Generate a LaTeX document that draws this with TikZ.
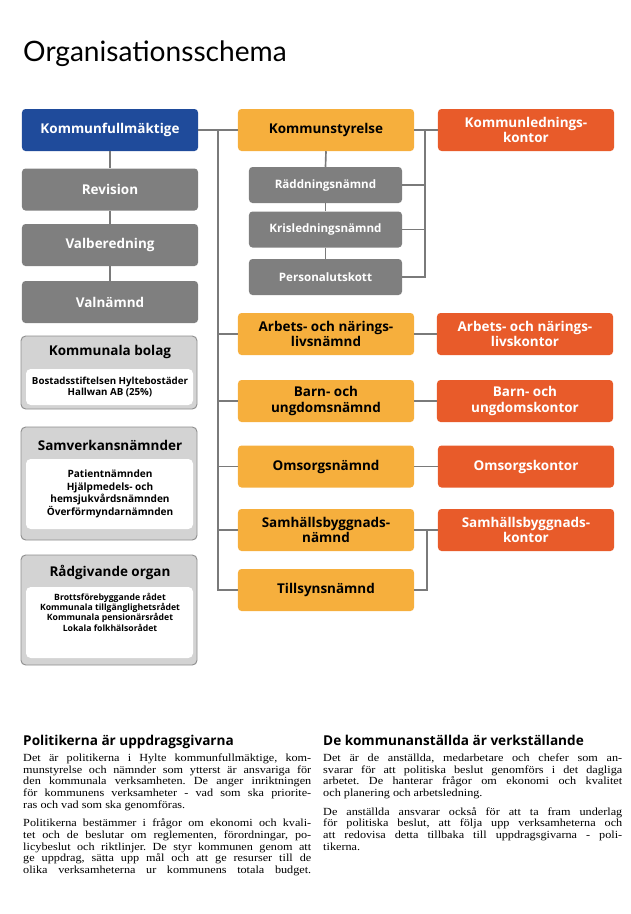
\documentclass[tikz,border=0pt]{standalone}
\usepackage{fontspec}
\usepackage{tikz}
\setmainfont{Liberation Serif}[FakeStretch=1.12]
\newfontfamily\boxfont{Open Sans}
\newfontfamily\titlefont{Lato}
\frenchspacing

\definecolor{kfblue}{HTML}{1F4B9B}
\definecolor{namndorange}{HTML}{F6AF3D}
\definecolor{kontorred}{HTML}{E85B2A}
\definecolor{boxgray}{HTML}{7F7F7F}
\definecolor{panelgray}{HTML}{D3D3D3}
\definecolor{panelborder}{HTML}{8E8E8E}
\definecolor{conngray}{HTML}{7A7A7A}

\begin{document}
\begin{tikzpicture}[x=0.03cm, y=-0.03cm,
		box/.style={rounded corners=3pt, minimum width=5.28cm, minimum height=1.26cm, inner sep=1pt, align=center, font=\boxfont\bfseries\fontsize{11.5}{13}\selectfont},
		topbox/.style={box, fill=kfblue, text=white},
		graybox/.style={box, fill=boxgray, text=white},
		subbox/.style={graybox, minimum width=4.59cm, minimum height=1.08cm, font=\boxfont\bfseries\fontsize{9.9}{11}\selectfont},
		namnd/.style={box, fill=namndorange, text=black},
		kontor/.style={box, fill=kontorred, text=white},
		conn/.style={draw=conngray, line width=1.4pt},
		panel/.style={draw=panelborder, fill=panelgray, rounded corners=4pt, line width=0.8pt},
		panelinner/.style={fill=white, rounded corners=4pt},
		paneltitle/.style={inner sep=0pt, font=\boxfont\bfseries\fontsize{11.5}{13}\selectfont},
		panelbody/.style={inner sep=0pt, align=center, font=\boxfont\bfseries\fontsize{7.6}{9.4}\selectfont},
		heading/.style={anchor=base west, inner sep=0pt, font=\boxfont\bfseries\fontsize{11.6}{13}\selectfont},
		bodytext/.style={anchor=base west, inner sep=0pt, align=justify, font=\fontsize{9.3}{9.95}\selectfont}]
		
		\useasboundingbox (0,0) rectangle (630,914);
		
		% Title
		\node (title) at (23,61) [anchor=base west, inner sep=0pt, font=\titlefont\fontsize{24}{27}\selectfont] {Organisationsschema};
		
		% Left column
		\node (kf) at (110,130) [topbox] {Kommunfullmäktige};
		\node (rev) at (110,189.5) [graybox] {Revision};
		\node (valb) at (110,245) [graybox] {Valberedning};
		\node (valn) at (110,302) [graybox] {Valnämnd};
		
		\draw[conn] (kf.south) -- (rev.north);
		\draw[conn] (rev.south) -- (valb.north);
		\draw[conn] (valb.south) -- (valn.north);
		
		% Kommunstyrelse with its committees
		\node (ks) at (326,130) [namnd] {Kommunstyrelse};
		\node (klk) at (526,130) [kontor] {Kommunlednings-\\kontor};
		\node (radd) at (325.5,185) [subbox] {Räddningsnämnd};
		\node (kris) at (325.5,229.5) [subbox] {Krisledningsnämnd};
		\node (pers) at (325.5,277) [subbox] {Personalutskott};
		
		\draw[conn] (ks.south) -- (radd.north);
		\draw[conn] (radd.south) -- (kris.north);
		\draw[conn] (kris.south) -- (pers.north);
		
		\coordinate (kb) at (425,0);
		\draw[conn] (ks.east) -- (klk.west);
		\draw[conn] (kb |- ks.east) |- (pers.east);
		\foreach \n in {radd,kris}
		\draw[conn] (\n.east) -- (kb |- \n.east);
		
		% Committees and offices
		\node (anl) at (326,334) [namnd] {Arbets- och närings-\\livsnämnd};
		\node (ank) at (525,334) [kontor] {Arbets- och närings-\\livskontor};
		\node (bun) at (326,401) [namnd] {Barn- och\\ungdomsnämnd};
		\node (buk) at (525,401) [kontor] {Barn- och\\ungdomskontor};
		\node (oms) at (326,466.5) [namnd] {Omsorgsnämnd};
		\node (omk) at (526,466.5) [kontor] {Omsorgskontor};
		\node (sbn) at (326,530) [namnd] {Samhällsbyggnads-\\nämnd};
		\node (sbk) at (526,530) [kontor] {Samhällsbyggnads-\\kontor};
		\node (tsn) at (326,590) [namnd] {Tillsynsnämnd};
		
		\draw[conn] (anl.east) -- (ank.west);
		\draw[conn] (bun.east) -- (buk.west);
		\draw[conn] (oms.east) -- (omk.west);
		\draw[conn] (sbn.east) -- (sbk.west);
		\coordinate (sb) at (427,0);
		\draw[conn] (sb |- sbn.east) |- (tsn.east);
		
		% Trunk from Kommunfullmäktige
		\coordinate (tr) at (218,0);
		\draw[conn] (kf.east) -- (ks.west);
		\draw[conn] (tr |- ks.west) |- (tsn.west);
		\foreach \n in {anl,bun,oms,sbn}
		\draw[conn] (tr |- \n.west) -- (\n.west);
		
		% Kommunala bolag
		\draw[panel] (21,336) rectangle (197,409);
		\fill[panelinner] (26,369) rectangle (193,405);
		\node (bolag) at (110,352) [paneltitle] {Kommunala bolag};
		\node (bolaglist) at (110,387.5) [panelbody, font=\boxfont\bfseries\fontsize{8.3}{9.4}\selectfont] {Bostadsstiftelsen Hyltebostäder\\Hallwan AB (25\%)};
		
		% Samverkansnamnder
		\draw[panel] (21,427) rectangle (197,540);
		\fill[panelinner] (26,459) rectangle (193,529);
		\node (samv) at (110,445) [paneltitle] {Samverkansnämnder};
		\node (samvlist) at (110,494) [panelbody, font=\boxfont\bfseries\fontsize{8.6}{10.8}\selectfont] {Patientnämnden\\Hjälpmedels- och\\hemsjukvårdsnämnden\\Överförmyndarnämnden};
		
		% Radgivande organ
		\draw[panel] (21,555) rectangle (197,665);
		\fill[panelinner] (26,587) rectangle (193,658);
		\node (radg) at (110,572) [paneltitle] {Rådgivande organ};
		\node (radglist) at (110,612) [panelbody, font=\boxfont\bfseries\fontsize{7.4}{8.8}\selectfont] {Brottsförebyggande rådet\\Kommunala tillgänglighetsrådet\\Kommunala pensionärsrådet\\Lokala folkhälsorådet};
		
		% Text below the chart
		\node (polhead) at (23,745) [heading] {Politikerna är uppdragsgivarna};
		\node (poltext) at (23,761.5) [bodytext, text width=8.64cm] {\tolerance=10000\hyphenpenalty=10000\setlength{\parskip}{6pt}%
			Det är politikerna i Hylte kommunfullmäktige, kom-\linebreak munstyrelse och nämnder som ytterst är ansvariga för\linebreak den kommunala verksamheten. De anger inriktningen\linebreak för kommunens verksamheter - vad som ska priorite-\linebreak ras och vad som ska genomföras.\par
			{\parfillskip=0pt Politikerna bestämmer i frågor om ekonomi och kvali-\linebreak tet och de beslutar om reglementen, förordningar, po-\linebreak licybeslut och riktlinjer. De styr kommunen genom att\linebreak ge uppdrag, sätta upp mål och att ge resurser till de\linebreak olika verksamheterna ur kommunens totala budget.\par}};
		
		\node (anshead) at (323,745) [heading] {De kommunanställda är verkställande};
		\node (anstext) at (323,761.5) [bodytext, text width=8.97cm] {\tolerance=10000\hyphenpenalty=10000\setlength{\parskip}{6pt}%
			Det är de anställda, medarbetare och chefer som an-\linebreak svarar för att politiska beslut genomförs i det dagliga\linebreak arbetet. De hanterar frågor om ekonomi och kvalitet\linebreak och planering och arbetsledning.\par
			De anställda ansvarar också för att ta fram underlag\linebreak för politiska beslut, att följa upp verksamheterna och\linebreak att redovisa detta tillbaka till uppdragsgivarna - poli-\linebreak tikerna.\par};
		
	\end{tikzpicture}
\end{document}
